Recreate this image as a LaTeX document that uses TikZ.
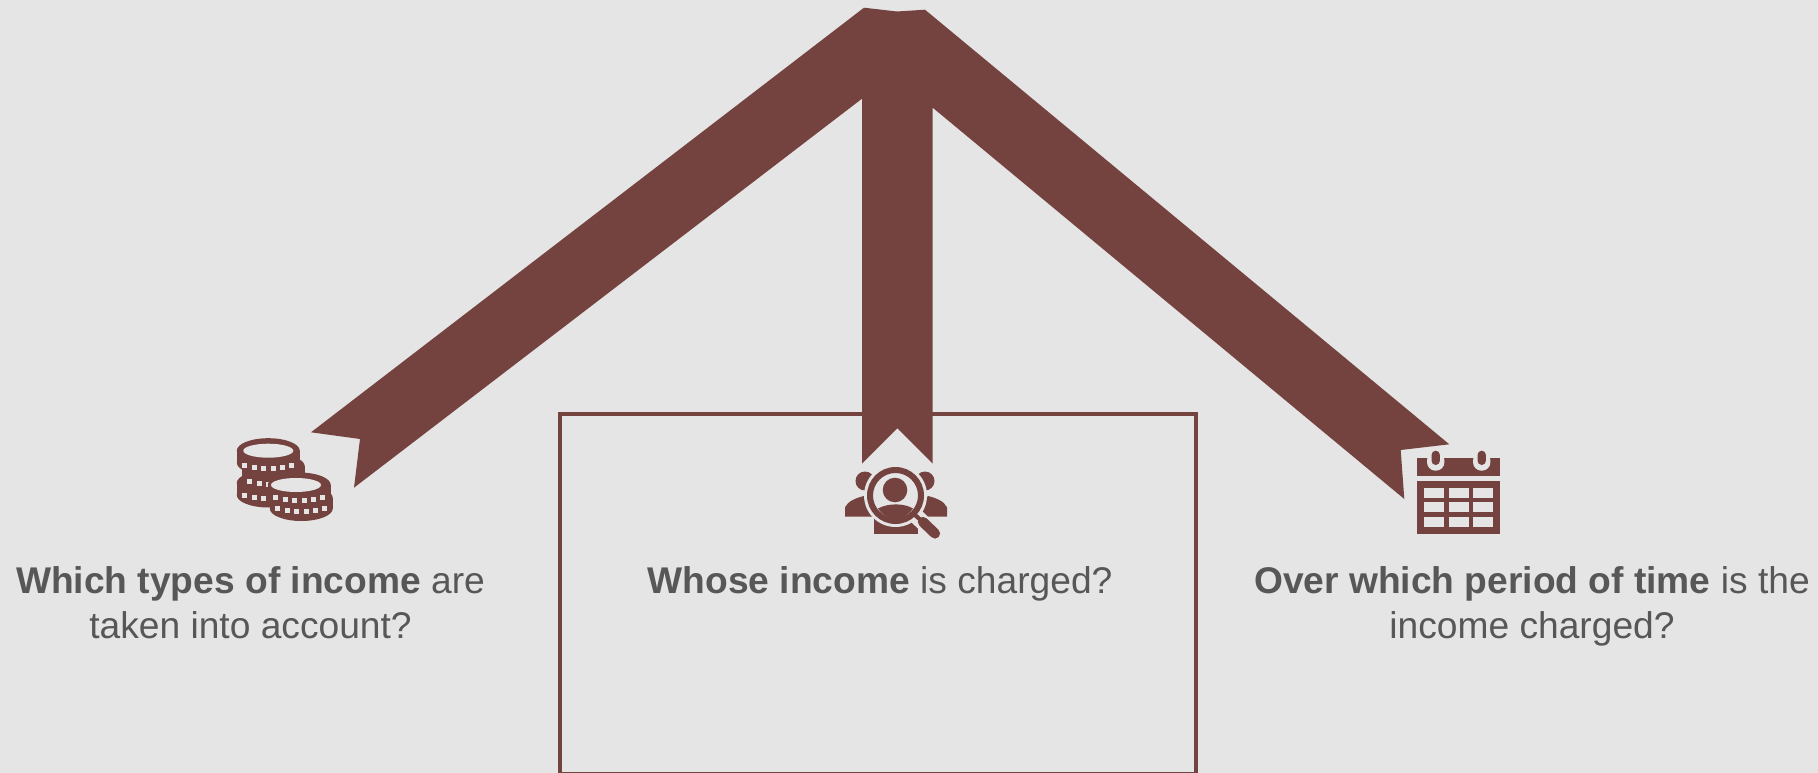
\documentclass[tikz,border=0pt]{standalone}
\usepackage{fontspec}
\setmainfont{Liberation Sans}
\usepackage{xcolor}
\usetikzlibrary{positioning,calc}
\definecolor{roofbrown}{HTML}{75433F}
\definecolor{paneygrey}{HTML}{E5E5E5}
\definecolor{labelgrey}{HTML}{575757}
\tikzset{
    question/.style={text=labelgrey,align=center,anchor=north,inner sep=0pt,font=\fontsize{10.57}{12.8}\selectfont},
    brownfill/.style={fill=roofbrown},
    greyfill/.style={fill=paneygrey}
}
% one coin: x of centre, y of top face, height
\newcommand{\coinbody}[3]{%
    \fill[brownfill] (#1-31.5,#2) rectangle (#1+31.5,#2+#3);
    \fill[brownfill] (#1,#2) ellipse (31.5 and 12.5);
    \fill[brownfill] (#1,#2+#3) ellipse (31.5 and 12.5);
}
% squares on the rim of a coin
\newcommand{\coinrim}[2]{%
    \foreach \dx in {-23.5,-14,-4.7,4.7,14,23.5} {
        \fill[greyfill] ({#1+\dx-2.5},{#2+10*sqrt(1-(\dx/32)^2)-2.5}) rectangle ++(5,5);
    }
}
\begin{document}
\begin{tikzpicture}[x=0.01cm,y=-0.01cm]
    \fill[greyfill] (0,0) rectangle (1818,773);
    \useasboundingbox (0,0) rectangle (1818,773);

    % Frame round the middle question
    \draw[roofbrown,line width=1.05pt] (560,414) rectangle (1196,773.5);

    % Three bands from the top
    \fill[brownfill] (864,7.7) -- (897,11.5) -- (925,9.7) -- (1449.3,444.3) -- (1400.7,450) -- (1404.3,499)
        -- (932.7,107.7) -- (932.7,463.5) -- (897.3,428.3) -- (862,463.5) -- (862,98.7)
        -- (354,487.7) -- (360,439) -- (311,432.3) -- cycle;

    % Coins
    \coinbody{273.3}{466.3}{12}
    \coinbody{268.3}{450.7}{12}
    \coinbody{268.3}{483}{12}
    \coinrim{268.3}{458.3}
    \coinrim{273.3}{474.3}
    \coinrim{268.3}{488.3}
    \coinbody{301.3}{498}{10.5}
    \coinbody{299.3}{485}{9.5}
    \coinrim{299.3}{490.3}
    \coinrim{301.3}{502}
    \fill[greyfill] (268.3,450.7) ellipse (25 and 7);
    \fill[greyfill] (296,485) ellipse (25 and 7);

    % Person under the lens
    \fill[brownfill] (865,481) circle (9.5);
    \fill[brownfill] (925,481) circle (9.5);
    \fill[brownfill] (845,516.7) -- (845,507.3) .. controls (848,501) and (856,498) .. (864,496) -- (880,516.7) -- cycle;
    \fill[brownfill] (947,516.7) -- (947,507.3) .. controls (944,501) and (936,498) .. (928,496) -- (912,516.7) -- cycle;
    \fill[brownfill] (874,534.3) -- (874,515) -- (918.3,515) -- (918.3,534.3) -- cycle;
    \fill[greyfill] (895.5,495.5) circle (31.5);
    \draw[paneygrey,line width=4.4pt,line cap=round] (917,517) -- (936,535);
    \fill[brownfill,even odd rule] (895.5,495.5) circle (28.5) (895.5,495.5) circle (22.5);
    \fill[brownfill] (895,490) circle (12.3);
    \fill[brownfill] (878,508.5) .. controls (888,503) and (904,503) .. (913,508.5) .. controls (904,522) and (887,522) .. (878,508.5) -- cycle;
    \draw[roofbrown,line width=1.2pt] (915,515) -- (923,522);
    \draw[roofbrown,line width=2.9pt,line cap=round] (923,522) -- (935,533.5);

    % Calendar
    \fill[brownfill] (1417.3,458.3) rectangle (1500,475.7);
    \fill[brownfill] (1417.3,480.7) rectangle (1500,534);
    \foreach \ringx in {1435.7,1481.7} {
        \fill[greyfill,rounded corners=2.4pt] (\ringx-8.7,452) rectangle (\ringx+8.7,470.7);
        \fill[brownfill,rounded corners=1.2pt] (\ringx-4.2,450.7) rectangle (\ringx+4.2,465);
    }
    \foreach \cellx in {1424.3,1449,1473.3} {
        \foreach \celly in {487.7,502.3,517} {
            \fill[greyfill] (\cellx,\celly) rectangle ++(19.7,10);
        }
    }

    % Questions
    \node[question] (income) at (250.5,566) {\textbf{Which types of income} are\\taken into account?};
    \node[question] (whose) at (880,566) {\textbf{Whose income} is charged?};
    \node[question] (period) at (1532,566) {\textbf{Over which period of time} is the\\income charged?};
\end{tikzpicture}
\end{document}
